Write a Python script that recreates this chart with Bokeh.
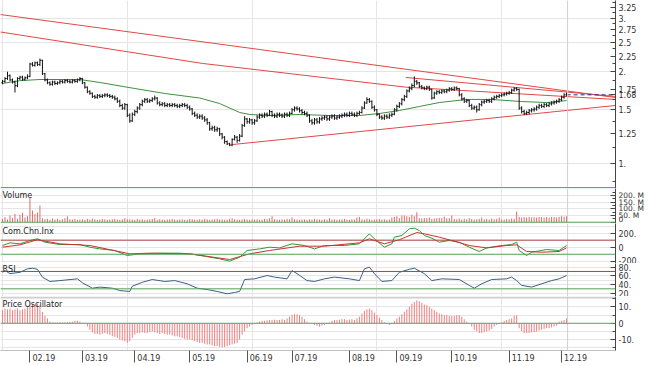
import numpy as np
from bokeh.plotting import figure
from bokeh.layouts import column
from bokeh.models import Range1d, LinearAxis, LogAxis, FixedTicker, Span, Label
from bokeh.embed import file_html
from bokeh.resources import INLINE

# ---------------- data ----------------
closes = [1.86, 1.90, 1.94, 1.88, 1.85, 1.80,
          1.90, 1.92, 1.89, 1.91, 1.93,
          2.12, 2.10, 2.14, 2.11, 2.18,
          1.97,
          1.88, 1.84, 1.82, 1.85, 1.83,
          1.84, 1.86, 1.85, 1.87, 1.86, 1.85, 1.87, 1.86, 1.88, 1.90,
          1.84, 1.78, 1.72, 1.70,
          1.66, 1.65, 1.67, 1.66,
          1.67, 1.68, 1.67, 1.66, 1.65, 1.63,
          1.60, 1.55, 1.52, 1.56,
          1.44, 1.38, 1.45,
          1.48, 1.52, 1.56,
          1.60, 1.62, 1.60, 1.61, 1.63, 1.64,
          1.58, 1.56, 1.57, 1.55,
          1.56, 1.55, 1.56, 1.55, 1.54, 1.55, 1.56, 1.55, 1.53, 1.51,
          1.46, 1.44, 1.42, 1.43, 1.41, 1.39,
          1.36, 1.30, 1.31, 1.29, 1.30,
          1.25, 1.22,
          1.18, 1.16, 1.15,
          1.20, 1.22, 1.19, 1.23,
          1.33, 1.40,
          1.37, 1.39, 1.36, 1.38,
          1.42, 1.44, 1.43, 1.45, 1.44, 1.48,
          1.44, 1.43, 1.45, 1.44, 1.43, 1.45, 1.44, 1.46,
          1.50, 1.52, 1.51, 1.49,
          1.47, 1.46, 1.44,
          1.38, 1.36, 1.39, 1.37, 1.40,
          1.41, 1.42, 1.40, 1.42, 1.43, 1.41, 1.42, 1.43,
          1.44, 1.45, 1.44, 1.46, 1.45, 1.44, 1.46, 1.47,
          1.52, 1.58, 1.62, 1.60,
          1.53, 1.50,
          1.45, 1.42, 1.41, 1.43,
          1.42, 1.44, 1.45,
          1.50, 1.54, 1.57,
          1.62, 1.66,
          1.73, 1.76,
          1.80, 1.86, 1.84,
          1.79, 1.77, 1.76, 1.78, 1.75,
          1.64,
          1.70, 1.72, 1.71, 1.73, 1.72,
          1.74, 1.76, 1.75, 1.77, 1.76,
          1.68, 1.63, 1.60, 1.61,
          1.55, 1.52, 1.53, 1.50,
          1.56, 1.59, 1.60, 1.61, 1.60,
          1.63, 1.65, 1.66, 1.67,
          1.68, 1.69, 1.70, 1.71,
          1.74, 1.76, 1.75,
          1.52,
          1.48, 1.46, 1.47,
          1.49, 1.50, 1.51,
          1.53, 1.55, 1.54, 1.56, 1.55,
          1.57, 1.58, 1.59,
          1.60, 1.62,
          1.65, 1.68, 1.68]

opens = [1.84, 1.86, 1.90, 1.94, 1.88, 1.85,
         1.80, 1.90, 1.92, 1.89, 1.91,
         1.93, 2.12, 2.10, 2.14, 2.11,
         2.18,
         1.97, 1.88, 1.84, 1.82, 1.85,
         1.83, 1.84, 1.86, 1.85, 1.87, 1.86, 1.85, 1.87, 1.86, 1.88,
         1.90, 1.84, 1.78, 1.72,
         1.70, 1.66, 1.65, 1.67,
         1.66, 1.67, 1.68, 1.67, 1.66, 1.65,
         1.63, 1.60, 1.55, 1.52,
         1.56, 1.44, 1.38,
         1.45, 1.48, 1.52,
         1.56, 1.60, 1.62, 1.60, 1.61, 1.63,
         1.64, 1.58, 1.56, 1.57,
         1.55, 1.56, 1.55, 1.56, 1.55, 1.54, 1.55, 1.56, 1.55, 1.53,
         1.51, 1.46, 1.44, 1.42, 1.43, 1.41,
         1.39, 1.36, 1.30, 1.31, 1.29,
         1.30, 1.25,
         1.22, 1.18, 1.16,
         1.15, 1.20, 1.22, 1.19,
         1.23, 1.33,
         1.40, 1.37, 1.39, 1.36,
         1.38, 1.42, 1.44, 1.43, 1.45, 1.44,
         1.48, 1.44, 1.43, 1.45, 1.44, 1.43, 1.45, 1.44,
         1.46, 1.50, 1.52, 1.51,
         1.49, 1.47, 1.46,
         1.44, 1.38, 1.36, 1.39, 1.37,
         1.40, 1.41, 1.42, 1.40, 1.42, 1.43, 1.41, 1.42,
         1.43, 1.44, 1.45, 1.44, 1.46, 1.45, 1.44, 1.46,
         1.47, 1.52, 1.58, 1.62,
         1.60, 1.53,
         1.50, 1.45, 1.42, 1.41,
         1.43, 1.42, 1.44,
         1.45, 1.50, 1.54,
         1.57, 1.62,
         1.66, 1.73,
         1.76, 1.80, 1.86,
         1.84, 1.79, 1.77, 1.76, 1.78,
         1.75,
         1.64, 1.70, 1.72, 1.71, 1.73,
         1.72, 1.74, 1.76, 1.75, 1.77,
         1.76, 1.68, 1.63, 1.60,
         1.61, 1.55, 1.52, 1.53,
         1.50, 1.56, 1.59, 1.60, 1.61,
         1.60, 1.63, 1.65, 1.66,
         1.67, 1.68, 1.69, 1.70,
         1.71, 1.74, 1.76,
         1.75,
         1.52, 1.48, 1.46,
         1.47, 1.49, 1.50,
         1.51, 1.53, 1.55, 1.54, 1.56,
         1.55, 1.57, 1.58,
         1.59, 1.60,
         1.62, 1.65, 1.68]

highs = [1.88, 1.92, 2.00, 1.96, 1.90, 1.87, 1.92, 1.94, 1.94, 1.93,
         1.96, 2.14, 2.15, 2.16, 2.16, 2.21, 2.19, 1.98, 1.90, 1.86,
         1.87, 1.87, 1.86, 1.88, 1.88, 1.89, 1.89, 1.88, 1.89, 1.89,
         1.90, 1.92, 1.91, 1.85, 1.79, 1.74, 1.71, 1.68, 1.69, 1.69,
         1.69, 1.70, 1.70, 1.69, 1.68, 1.67, 1.65, 1.62, 1.57, 1.58,
         1.57, 1.46, 1.47, 1.50, 1.54, 1.58, 1.62, 1.64, 1.64, 1.63,
         1.65, 1.67, 1.65, 1.60, 1.59, 1.59, 1.58, 1.58, 1.58, 1.58,
         1.57, 1.57, 1.58, 1.58, 1.57, 1.55, 1.52, 1.48, 1.46, 1.45,
         1.45, 1.43, 1.41, 1.37, 1.33, 1.33, 1.32, 1.31, 1.26, 1.23,
         1.19, 1.17, 1.21, 1.24, 1.23, 1.25, 1.35, 1.43, 1.41, 1.41,
         1.40, 1.40, 1.44, 1.46, 1.46, 1.47, 1.47, 1.50, 1.49, 1.46,
         1.47, 1.47, 1.46, 1.47, 1.47, 1.48, 1.52, 1.54, 1.54, 1.53,
         1.51, 1.49, 1.48, 1.45, 1.40, 1.41, 1.41, 1.42, 1.43, 1.44,
         1.44, 1.44, 1.45, 1.45, 1.44, 1.45, 1.46, 1.47, 1.47, 1.48,
         1.48, 1.47, 1.48, 1.49, 1.54, 1.60, 1.65, 1.64, 1.61, 1.55,
         1.51, 1.46, 1.44, 1.45, 1.45, 1.46, 1.47, 1.52, 1.56, 1.59,
         1.64, 1.68, 1.75, 1.79, 1.83, 1.93, 1.88, 1.85, 1.81, 1.79,
         1.80, 1.80, 1.76, 1.72, 1.74, 1.74, 1.75, 1.75, 1.76, 1.78,
         1.78, 1.79, 1.79, 1.77, 1.70, 1.65, 1.63, 1.62, 1.57, 1.55,
         1.55, 1.58, 1.61, 1.62, 1.63, 1.63, 1.65, 1.67, 1.68, 1.69,
         1.70, 1.71, 1.72, 1.73, 1.76, 1.78, 1.78, 1.76, 1.54, 1.50,
         1.49, 1.51, 1.52, 1.53, 1.55, 1.57, 1.57, 1.58, 1.58, 1.59,
         1.60, 1.61, 1.62, 1.64, 1.67, 1.70, 1.71]

lows = [1.82, 1.84, 1.88, 1.86, 1.83, 1.71, 1.78, 1.88, 1.87, 1.87,
        1.89, 1.92, 2.08, 2.08, 2.09, 2.09, 1.95, 1.86, 1.82, 1.80,
        1.80, 1.81, 1.81, 1.82, 1.83, 1.83, 1.84, 1.83, 1.83, 1.84,
        1.84, 1.86, 1.82, 1.76, 1.70, 1.68, 1.64, 1.63, 1.63, 1.64,
        1.64, 1.65, 1.65, 1.64, 1.63, 1.61, 1.58, 1.53, 1.50, 1.50,
        1.42, 1.36, 1.37, 1.43, 1.46, 1.50, 1.54, 1.58, 1.58, 1.58,
        1.59, 1.61, 1.56, 1.54, 1.54, 1.53, 1.53, 1.53, 1.53, 1.53,
        1.52, 1.52, 1.53, 1.53, 1.51, 1.49, 1.44, 1.42, 1.40, 1.40,
        1.39, 1.37, 1.34, 1.28, 1.28, 1.27, 1.27, 1.23, 1.20, 1.16,
        1.15, 1.14, 1.14, 1.19, 1.17, 1.18, 1.22, 1.32, 1.35, 1.35,
        1.34, 1.34, 1.37, 1.40, 1.41, 1.41, 1.42, 1.43, 1.42, 1.41,
        1.41, 1.42, 1.41, 1.41, 1.42, 1.42, 1.45, 1.48, 1.49, 1.47,
        1.45, 1.44, 1.42, 1.36, 1.34, 1.34, 1.35, 1.35, 1.38, 1.39,
        1.38, 1.38, 1.40, 1.39, 1.39, 1.40, 1.41, 1.42, 1.42, 1.42,
        1.43, 1.42, 1.42, 1.44, 1.46, 1.51, 1.57, 1.58, 1.51, 1.48,
        1.43, 1.40, 1.39, 1.39, 1.40, 1.40, 1.42, 1.44, 1.48, 1.52,
        1.55, 1.60, 1.64, 1.71, 1.74, 1.78, 1.81, 1.77, 1.75, 1.74,
        1.74, 1.73, 1.62, 1.63, 1.68, 1.69, 1.69, 1.70, 1.70, 1.72,
        1.73, 1.73, 1.74, 1.66, 1.61, 1.58, 1.58, 1.53, 1.50, 1.50,
        1.47, 1.49, 1.54, 1.57, 1.58, 1.58, 1.58, 1.61, 1.63, 1.64,
        1.65, 1.66, 1.67, 1.68, 1.69, 1.72, 1.73, 1.50, 1.46, 1.44,
        1.44, 1.45, 1.47, 1.48, 1.49, 1.51, 1.52, 1.52, 1.53, 1.53,
        1.55, 1.56, 1.57, 1.58, 1.60, 1.63, 1.66]

# moving average (green) read at sample bars
ma_idx = [0, 7, 15, 31, 39, 53, 65, 79, 87, 95, 99, 107, 119, 131, 143, 151,
          159, 167, 175, 186, 196, 208, 218, 226]
ma_val = [1.83, 1.87, 1.886, 1.886, 1.844, 1.762, 1.697, 1.64, 1.573, 1.47,
          1.448, 1.437, 1.448, 1.437, 1.437, 1.459, 1.492, 1.538, 1.585,
          1.622, 1.622, 1.597, 1.585, 1.609]

# trend lines (bar index, price)
trend_a_idx = [-0.8, 245.6]
trend_a_val = [3.08, 1.646]
trend_b_idx = [-0.8, 80.0, 161.6, 245.6]
trend_b_val = [2.70, 2.13, 1.78, 1.622]
trend_c_idx = [161.6, 245.6]
trend_c_val = [1.915, 1.659]
trend_d_idx = [92.1, 245.6]
trend_d_val = [1.154, 1.55]

# volume in millions
volume_m = [25, 38, 20, 50, 30, 62, 25, 55, 70, 35, 45,
            180, 88, 60, 72, 125,
            30, 22, 25, 18, 28, 20, 25, 18, 22, 30, 45, 22, 20, 25, 18,
            20, 22, 18, 25, 20, 28, 22, 18, 20, 25, 22, 18, 20, 22, 25, 20, 18, 22, 30, 22,
            22, 20, 18, 25, 20, 22, 18, 20, 22, 25, 30, 18, 22, 20, 18, 20, 22, 25, 20, 18,
            20, 22, 18, 20, 25, 22, 20, 18, 22, 20, 25, 22, 18, 20, 22, 25, 20, 22, 18, 20,
            25, 30, 22, 20, 18, 22, 25, 20, 18, 22,
            20, 22, 18, 20, 25, 22, 30, 45, 22, 20, 18, 22, 20, 25, 22, 35, 22, 20, 18, 22,
            20, 18, 22, 20, 25, 22, 20, 18, 22,
            18, 30, 20, 22, 18, 20, 22, 25, 20, 18, 22, 20, 35,
            40, 22, 20, 25, 22, 18, 20, 22, 25, 20, 22, 18, 20, 35,
            40, 45, 30, 50, 50, 45, 40, 55, 45, 75,
            30, 28, 32, 30, 35, 25, 28, 30, 32, 30, 40, 28, 30, 50,
            25, 22, 28, 20, 25, 22, 30, 25, 20, 22, 25, 35,
            22, 25, 20, 28, 22, 25, 35, 22, 20, 25, 22, 28, 25,
            80,
            40, 35, 38, 35, 40, 35, 38, 35, 40, 38, 35, 38, 35, 40, 38, 35, 40, 45, 42, 45]

# Chaikin oscillator lines
chk_g_idx = [0, 3, 7, 11, 14, 17, 23, 31, 35, 39, 45, 50, 55, 63, 71, 75, 81, 87, 91, 95,
             98, 103, 107, 111, 116, 121, 125, 129, 137, 143, 147, 149, 153, 156, 157, 160,
             163, 165, 167, 169, 172, 175, 179, 183, 187, 191, 194, 199, 204, 206, 207, 210,
             212, 218, 223, 226]
chk_g_val = [24, 62, 48, 95, 119, 71, 38, 38, 0, -24, -47, -118, -94, -85, -85, -94, -128,
             -165, -199, -142, -47, -24, 0, -10, 48, 24, -24, 24, 24, 48, 190, 119, 0, 48,
             142, 166, 261, 270, 237, 166, 128, 71, 95, 71, 0, -61, -10, 19, 38, 71, -47,
             -118, -71, -33, -47, 24]
chk_r_idx = [0, 7, 14, 23, 35, 51, 59, 75, 91, 99, 107, 119, 129, 143, 147, 153, 159, 166,
             169, 175, 180, 187, 194, 202, 206, 210, 216, 223, 226]
chk_r_val = [0, 33, 106, 48, 24, -94, -85, -94, -175, -94, -47, 14, 14, 62, 119, 48, 106,
             208, 190, 142, 95, 24, -10, 24, 33, -61, -71, -61, -10]

# RSI
rsi_idx = [0, 1, 3, 7, 10, 12, 14, 16, 19, 23, 30, 32, 36, 39, 44, 47, 51, 52, 56, 60, 65,
           69, 74, 78, 82, 86, 90, 93, 95, 97, 101, 106, 109, 114, 116, 118, 122, 125, 129,
           133, 139, 143, 145, 147, 149, 152, 156, 159, 163, 165, 169, 172, 176, 183, 187,
           189, 192, 196, 202, 204, 206, 208, 212, 216, 220, 223, 226]
rsi_val = [68, 72, 65, 68, 76, 77.5, 75, 57, 47, 49, 53, 44, 31.5, 34, 31.5, 26, 24, 36, 45,
           51.5, 47, 49, 41.6, 31.5, 28.5, 24, 18.6, 21.6, 24, 51.5, 53, 60.7, 57, 53, 72, 65,
           49, 47, 53,
           57, 53, 49, 76, 80, 65, 47, 49, 68, 75, 77.5, 65, 49, 53, 51.5, 38, 31.5, 41.6,
           51.5, 53, 57, 49, 38, 34, 41.6, 49, 53, 60.7]

# Price oscillator (one bar per day)
po_val = [8, 9, 8.5, 9, 8, 8.5, 9, 8, 8.5, 9,
          10, 11, 12, 11.5, 12, 11,
          7, 4.5, 3, 1,
          0.5, 0.4, 0.5, 0.6, 0.5, 0.5, 0.6, 0.8, 1.0, 1.5, 1.5, 1.0,
          0.3, -0.5, -2,
          -4, -5.5, -6.5, -6.5, -7, -6.5, -6, -6.5, -7,
          -8, -8.5, -9, -10, -10.5, -11, -12,
          -11,
          -9, -7, -6, -6, -5.5, -6, -6,
          -5.5, -5, -5.5, -6, -6.5, -6, -6.5, -7, -7, -7.5, -8, -8, -8.5, -9, -9.5, -10, -10,
          -10.5, -11, -11.5, -12, -12, -12.5, -13, -13, -13.5, -14, -14, -14.5, -14.7, -14.5,
          -14, -13.5,
          -13, -12.5, -12, -10,
          -7,
          -5, -3, -2, -1, -0.5,
          0.5, 1, 1.5, 1.5, 1.8, 2,
          2, 2.2, 2, 2, 2.5, 2, 3,
          4, 5, 5.5, 5.5, 5, 4,
          2.5, 1, 0, -0.5,
          -1, -1.5, -2, -1.5, -1, -0.5, 0.5, 1.5, 2,
          2, 2.2, 2.5, 2.5, 2, 2.2, 2.5, 2, 3,
          4, 6, 7.5, 8.5, 9,
          8, 6.5, 5, 3.5, 2,
          0.5, -0.5, -1, -0.5,
          1.5, 3,
          4, 5.5, 7, 8.5, 10, 12, 13, 14,
          13.5, 12.5, 11.5, 11, 10, 9, 8,
          7, 6, 5.5, 5, 5, 4.5, 4.5, 4.5, 5, 5, 4,
          2.5, 1, -0.5, -2,
          -4, -5, -6, -6, -5.5, -5, -4.5, -3.5,
          -2, -1, -0.5, 0.5,
          1.5, 2, 2.5, 3,
          4.5, 5,
          -3, -5, -6, -6, -6, -5.5, -5.5, -5,
          -4.5, -4, -3.5, -3, -3, -2.5, -2,
          -1.5, 1, 1.5, 2, 3]

month_idx = [11, 32, 53, 75, 98, 116, 139, 158, 180, 203, 224]
month_lbl = ["02.19", "03.19", "04.19", "05.19", "06.19", "07.19",
             "08.19", "09.19", "10.19", "11.19", "12.19"]

last_price = 1.68
price_ticks = [1.0, 1.25, 1.5, 1.75, 2.0, 2.25, 2.5, 2.75, 3.0, 3.25, last_price]
price_lbls = ["1.", "1.25", "1.5", "1.75", "2.", "2.25", "2.5", "2.75", "3.", "3.25", "1.68"]
price_minor = [0.875, 1.125, 1.375, 1.625, 1.875, 2.125, 2.375, 2.625, 2.875, 3.125, 3.375]
vol_ticks = [0, 50, 100, 150, 200]
vol_lbls = ["0", "50. M", "100. M", "150. M", "200. M"]
chk_ticks = [-200, 0, 200]
chk_lbls = ["-200", "0", "200."]
rsi_ticks = [20, 40, 60, 80]
rsi_lbls = ["20.", "40.", "60.", "80."]
po_ticks = [-10, 0, 10]
po_lbls = ["-10.", "0", "10."]

# ---------------- styling / layout ----------------
FONT = "DejaVu Sans"
FW = 615
RB = 35
RED = "#e04848"
GREEN_LINE = "#5aa85a"
N = min(len(closes), len(opens), len(highs), len(lows))
idx = np.arange(N)
last_x = N - 1
xr = Range1d(-0.8, 245.6)
PAD = "\u00a0" * 11   # shifts the centred month labels to the right of their tick


def make_fig(h, yr, log=False, bottom=0):
    p = figure(frame_width=FW, frame_height=h, x_range=xr, y_range=yr,
               y_axis_type="log" if log else "linear",
               x_axis_location=None, y_axis_location=None,
               output_backend="svg", toolbar_location=None,
               min_border_left=0, min_border_right=RB, min_border_top=0,
               min_border_bottom=bottom)
    p.outline_line_color = None
    p.background_fill_color = "white"
    p.border_fill_color = "white"
    p.add_layout(Span(location=last_x + 0.4, dimension="height",
                      line_color="#d0d0d0", line_width=1))
    return p


def right_axis(p, ticks, lbls, minor=None, log=False, size="8px"):
    cls = LogAxis if log else LinearAxis
    ax = cls(ticker=FixedTicker(ticks=ticks, minor_ticks=minor or []),
             major_label_overrides={float(t): l for t, l in zip(ticks, lbls)},
             axis_line_color="#444", major_tick_in=5, major_tick_out=0,
             minor_tick_in=3, minor_tick_out=0,
             major_tick_line_color="#444", minor_tick_line_color="#444",
             major_label_text_font=FONT, major_label_text_font_size=size,
             major_label_text_color="#333", major_label_standoff=3)
    p.add_layout(ax, "right")
    return ax


def panel_label(p, text, h, off):
    p.add_layout(Label(x=2, y=h - off, x_units="screen", y_units="screen", text=text,
                       text_baseline="top", text_font=FONT, text_font_size="8px",
                       text_color="#222"))


# main price panel
H_MAIN = 188
pm = make_fig(H_MAIN, Range1d(0.828, 3.425), log=True)
right_axis(pm, price_ticks, price_lbls, price_minor, log=True)
pm.line(trend_a_idx, trend_a_val, line_color=RED, line_width=1)
pm.line(trend_b_idx, trend_b_val, line_color=RED, line_width=1)
pm.line(trend_c_idx, trend_c_val, line_color=RED, line_width=1)
pm.line(trend_d_idx, trend_d_val, line_color=RED, line_width=1)
pm.line(ma_idx, ma_val, line_color="#3f8f3f", line_width=1)
pm.segment(x0=idx, y0=lows[:N], x1=idx, y1=highs[:N], line_color="#111", line_width=1)
pm.segment(x0=idx - 0.45, y0=opens[:N], x1=idx, y1=opens[:N], line_color="#111", line_width=1)
pm.segment(x0=idx, y0=closes[:N], x1=idx + 0.45, y1=closes[:N], line_color="#111", line_width=1)
pm.segment(x0=[last_x], y0=[last_price], x1=[xr.end], y1=[last_price],
           line_color="#2a2a8a", line_width=1, line_dash="4 3")
pm.add_layout(Span(location=0.834, dimension="width", line_color=GREEN_LINE, line_width=1))

# volume panel
H_VOL = 35
pv = make_fig(H_VOL, Range1d(-9.7, 252.4))
right_axis(pv, vol_ticks, vol_lbls, [25, 75, 125, 175, 225], size="7.5px")
vi = np.arange(len(volume_m))
pv.segment(x0=vi, y0=0, x1=vi, y1=volume_m, line_color="#e06a6a", line_width=1)
pv.add_layout(Span(location=0, dimension="width", line_color=GREEN_LINE, line_width=1))
panel_label(pv, "Volume", H_VOL, 2)

# Chaikin panel
H_CHK = 40
pc = make_fig(H_CHK, Range1d(-231.5, 336.5))
right_axis(pc, chk_ticks, chk_lbls)
pc.add_layout(Span(location=100, dimension="width", line_color="#b04040", line_width=1))
pc.add_layout(Span(location=-100, dimension="width", line_color=GREEN_LINE, line_width=1))
pc.line(chk_g_idx, chk_g_val, line_color="#2e9a2e", line_width=1)
pc.line(chk_r_idx, chk_r_val, line_color="#c83232", line_width=1)
panel_label(pc, "Com.Chn.Inx", H_CHK, 3)

# RSI panel
H_RSI = 33
pr = make_fig(H_RSI, Range1d(12.4, 88.3))
right_axis(pr, rsi_ticks, rsi_lbls)
pr.add_layout(Span(location=70, dimension="width", line_color="#b04040", line_width=1))
pr.add_layout(Span(location=30, dimension="width", line_color=GREEN_LINE, line_width=1))
pr.line(rsi_idx, rsi_val, line_color="#3a5f8a", line_width=1)
panel_label(pr, "RSI", H_RSI, 1)

# Price oscillator panel + date axis
H_PO = 54
pp = make_fig(H_PO, Range1d(-16.7, 16.4), bottom=16)
right_axis(pp, po_ticks, po_lbls, [-15, -5, 5, 15])
pi = np.arange(len(po_val))
pp.add_layout(Span(location=16.0, dimension="width", line_color="#b8b8b8", line_width=1))
pp.segment(x0=pi, y0=0, x1=pi, y1=po_val, line_color="#ef7f7f", line_width=1)
pp.add_layout(Span(location=0, dimension="width", line_color=GREEN_LINE, line_width=1))
panel_label(pp, "Price Oscillator", H_PO, 3)
xa = LinearAxis(ticker=FixedTicker(ticks=month_idx, minor_ticks=[]),
                major_label_overrides={float(t): PAD + l for t, l in zip(month_idx, month_lbl)},
                axis_line_color="#c0c0c0", major_tick_out=12, major_tick_in=0,
                major_tick_line_color="#555", minor_tick_out=0, minor_tick_in=0,
                major_label_text_font=FONT, major_label_text_font_size="8px",
                major_label_text_color="#333", major_label_standoff=-9)
pp.add_layout(xa, "below")

layout = column(pm, pv, pc, pr, pp, spacing=0)
open("out.html", "w").write(file_html(layout, INLINE))
